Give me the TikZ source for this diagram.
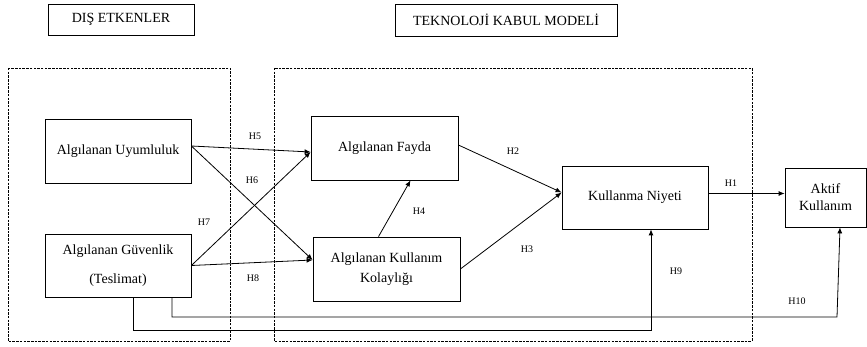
\documentclass[tikz,border=0pt]{standalone}
\usepackage{fontspec}
\setmainfont{Liberation Serif}
\usetikzlibrary{arrows.meta}
\begin{document}
\begin{tikzpicture}[x=1pt,y=-1pt,
  box/.style={draw,line width=0.8pt,inner sep=1pt,align=center,font=\fontsize{14}{17}\selectfont},
  hlab/.style={font=\fontsize{10}{12}\selectfont,inner sep=0pt},
  grp/.style={draw,dash pattern=on 2.5pt off 1.2pt,line width=0.7pt},
  arr/.style={-{Latex[length=6pt,width=5pt]},line width=0.8pt},
  ln/.style={line width=0.8pt}]
\useasboundingbox (0,0) rectangle (867,347);
% group boxes
\draw[grp] (8,68) rectangle (230,341);
\draw[grp] (274,68) rectangle (752,341);
% title boxes
\node[box,minimum width=146pt,minimum height=31pt] (de) at (121,19.5) {DIŞ ETKENLER};
\node[box,minimum width=222pt,minimum height=32pt] (tk) at (506,20) {TEKNOLOJİ KABUL MODELİ};
% main boxes
\node[box,minimum width=146pt,minimum height=64pt] (uy) at (118,151) {Algılanan Uyumluluk};
\node[box,minimum width=146pt,minimum height=63pt,font=\fontsize{14}{29}\selectfont] (gu) at (118,265.5) {Algılanan Güvenlik\\(Teslimat)};
\node[box,minimum width=147pt,minimum height=64pt] (fa) at (384.5,148) {Algılanan Fayda};
\node[box,minimum width=147pt,minimum height=64pt,font=\fontsize{14}{20}\selectfont] (ko) at (386.5,269) {Algılanan Kullanım\\Kolaylığı};
\node[box,minimum width=146pt,minimum height=63pt] (kn) at (635,197.5) {Kullanma Niyeti};
\node[box,minimum width=81pt,minimum height=59pt] (ak) at (825.5,197.5) {Aktif\\Kullanım};
% arrows
\draw[arr] ([yshift=5pt]uy.east) -- ([yshift=-4pt]fa.west);
\draw[arr] ([yshift=5pt]uy.east) -- ([yshift=9pt]ko.west);
\draw[arr] (gu.east) -- ([yshift=-4pt]fa.west);
\draw[arr] (gu.east) -- ([yshift=9pt]ko.west);
\draw[arr] ([xshift=-8pt]ko.north) -- ([xshift=26pt]fa.south);
\draw[arr] ([yshift=3pt]fa.east) -- ([yshift=5pt]kn.west);
\draw[arr] (ko.east) -- ([yshift=5pt]kn.west);
\draw[arr] ([yshift=4pt]kn.east) -- ([yshift=4pt]ak.west);
\coordinate (c9a) at (133,330);
\coordinate (c9b) at (651,330);
\coordinate (c10a) at (172,317);
\coordinate (c10b) at (837,317);
\draw[arr] ([xshift=15pt]gu.south) |- (c9b) -- ([xshift=16pt]kn.south);
\draw[arr] ([xshift=54pt]gu.south) |- (c10b) -- ([xshift=14.5pt]ak.south);
% labels
\node[hlab] (h5) at (255,136) {H5};
\node[hlab] (h6) at (252,180) {H6};
\node[hlab] (h7) at (204,222) {H7};
\node[hlab] (h8) at (253,278) {H8};
\node[hlab] (h2) at (513,151) {H2};
\node[hlab] (h4) at (419,211) {H4};
\node[hlab] (h3) at (527,249) {H3};
\node[hlab] (h1) at (731,183) {H1};
\node[hlab] (h9) at (676,271) {H9};
\node[hlab] (h10) at (797,301) {H10};
\end{tikzpicture}
\end{document}
